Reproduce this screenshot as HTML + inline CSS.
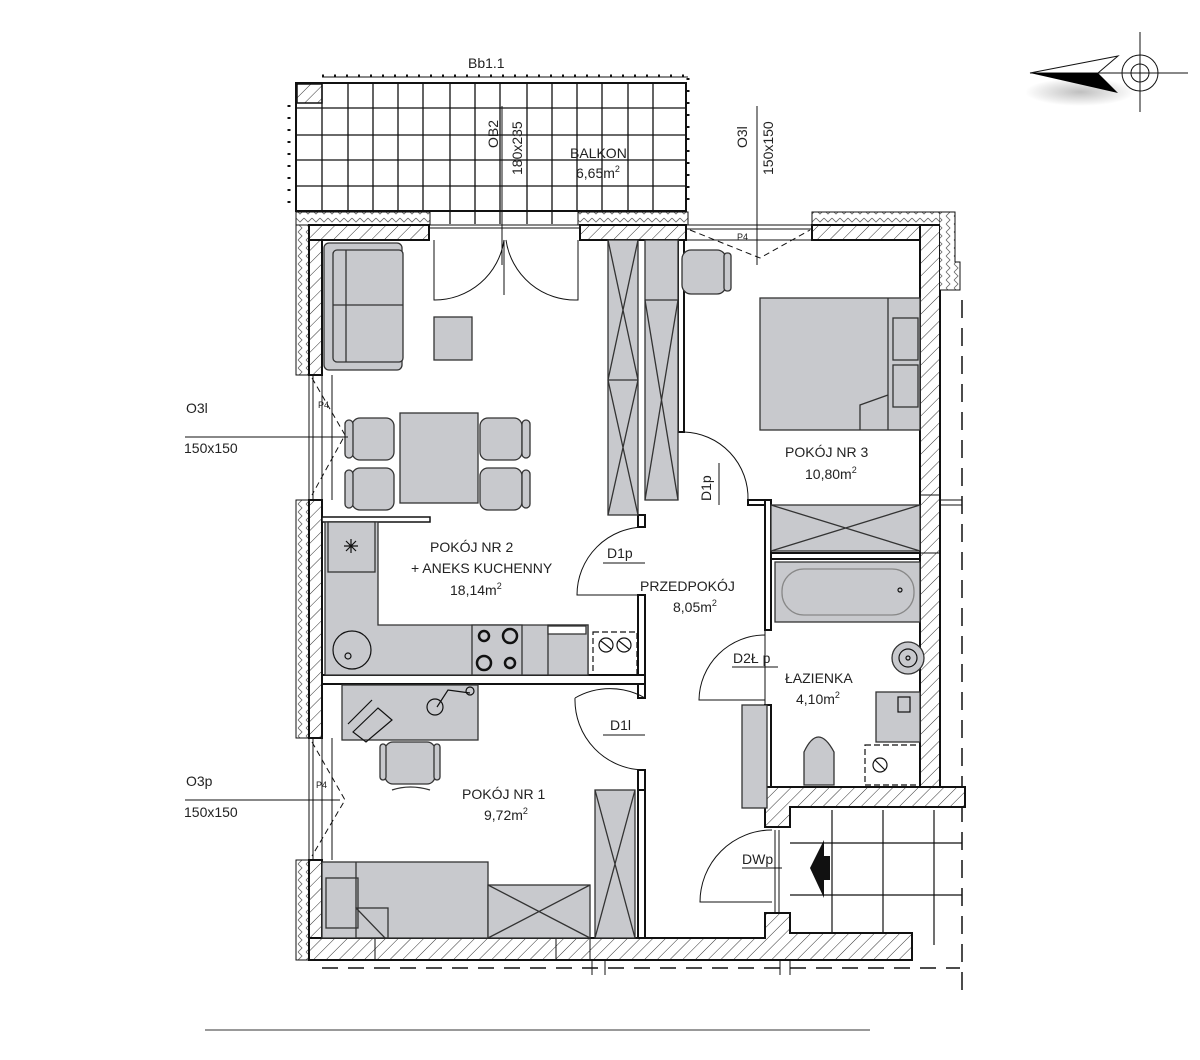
<!DOCTYPE html>
<html><head><meta charset="utf-8"><style>
html,body{margin:0;padding:0;background:#fff;}
svg{display:block;}
text{font-family:"Liberation Sans",sans-serif;fill:#222;}
</style></head><body>
<svg width="1200" height="1060" viewBox="0 0 1200 1060" xmlns="http://www.w3.org/2000/svg">
<defs>
<pattern id="h" width="9" height="9" patternUnits="userSpaceOnUse" patternTransform="rotate(45)">
<rect width="9" height="9" fill="#fff"/><line x1="0" y1="0" x2="0" y2="9" stroke="#333" stroke-width="1"/>
</pattern>
<pattern id="z" width="8" height="8" patternUnits="userSpaceOnUse">
<rect width="8" height="8" fill="#fff"/><polyline points="2,0 6,4 2,8" fill="none" stroke="#666" stroke-width="0.8"/>
</pattern>
<pattern id="zh" width="8" height="8" patternUnits="userSpaceOnUse">
<rect width="8" height="8" fill="#fff"/><polyline points="0,2 4,6 8,2" fill="none" stroke="#666" stroke-width="0.8"/>
</pattern>
<radialGradient id="sh"><stop offset="0" stop-color="#000" stop-opacity="0.25"/><stop offset="1" stop-color="#000" stop-opacity="0"/></radialGradient>
</defs>
<g stroke="#111" fill="none">

<line x1="322" y1="76" x2="688" y2="76" stroke-width="3" stroke-dasharray="2,10"/>
<line x1="322" y1="77" x2="688" y2="77" stroke-width="1"/>
<line x1="289" y1="105" x2="289" y2="210" stroke-width="3" stroke-dasharray="2,10"/>
<line x1="688" y1="78" x2="688" y2="206" stroke-width="3" stroke-dasharray="2,10"/>
<rect x="296" y="83" width="390" height="128" stroke-width="2"/>
<rect x="297" y="84" width="25" height="19" fill="url(#h)" stroke-width="1.5"/>
<g stroke-width="1.3">
<line x1="322" y1="83" x2="322" y2="211"/><line x1="348" y1="83" x2="348" y2="211"/><line x1="373" y1="83" x2="373" y2="211"/>
<line x1="398" y1="83" x2="398" y2="211"/><line x1="423" y1="83" x2="423" y2="211"/><line x1="450" y1="83" x2="450" y2="224"/>
<line x1="475" y1="83" x2="475" y2="224"/><line x1="500" y1="83" x2="500" y2="224"/><line x1="527" y1="83" x2="527" y2="224"/>
<line x1="552" y1="83" x2="552" y2="224"/><line x1="577" y1="83" x2="577" y2="211"/><line x1="602" y1="83" x2="602" y2="211"/>
<line x1="628" y1="83" x2="628" y2="211"/><line x1="653" y1="83" x2="653" y2="211"/>
<line x1="296" y1="108" x2="686" y2="108"/><line x1="296" y1="135" x2="686" y2="135"/><line x1="296" y1="160" x2="686" y2="160"/><line x1="296" y1="186" x2="686" y2="186"/>
</g>

<rect x="296" y="212" width="13" height="163" fill="url(#z)" stroke-width="1"/>
<rect x="296" y="500" width="13" height="238" fill="url(#z)" stroke-width="1"/>
<rect x="296" y="860" width="13" height="100" fill="url(#z)" stroke-width="1"/>
<rect x="309" y="225" width="13" height="150" fill="url(#h)" stroke-width="2"/>
<rect x="309" y="500" width="13" height="238" fill="url(#h)" stroke-width="2"/>
<rect x="309" y="860" width="13" height="100" fill="url(#h)" stroke-width="2"/>
<g stroke-width="1">
<line x1="309" y1="375" x2="309" y2="500"/><line x1="313" y1="375" x2="313" y2="500"/><line x1="322" y1="375" x2="322" y2="500"/><line x1="332" y1="375" x2="332" y2="500"/>
<line x1="309" y1="738" x2="309" y2="860"/><line x1="313" y1="738" x2="313" y2="860"/><line x1="322" y1="738" x2="322" y2="860"/><line x1="332" y1="738" x2="332" y2="860"/>
<path d="M312,378 L345,435 L312,495" stroke-dasharray="6,4"/>
<path d="M312,742 L345,800 L312,856" stroke-dasharray="6,4"/>
</g>
<rect x="296" y="212" width="134" height="13" fill="url(#zh)" stroke-width="1"/>
<rect x="578" y="212" width="110" height="13" fill="url(#zh)" stroke-width="1"/>
<rect x="309" y="225" width="120" height="15" fill="url(#h)" stroke-width="2"/>
<rect x="580" y="225" width="106" height="15" fill="url(#h)" stroke-width="2"/>
<line x1="430" y1="225" x2="580" y2="225" stroke-width="1"/>
<line x1="430" y1="228" x2="580" y2="228" stroke-width="1"/>
<g stroke-width="1">
<line x1="686" y1="225" x2="812" y2="225"/><line x1="686" y1="229" x2="812" y2="229"/><line x1="686" y1="240" x2="818" y2="240"/>
<path d="M690,230 L760,258 L810,230" stroke-dasharray="6,4"/>
</g>
<rect x="812" y="212" width="128" height="13" fill="url(#zh)" stroke-width="1"/>
<rect x="812" y="225" width="108" height="15" fill="url(#h)" stroke-width="2"/>
<rect x="920" y="225" width="20" height="562" fill="url(#h)" stroke-width="2"/>
<path d="M940,212 L955,212 L955,262 L960,262 L960,290 L940,290" fill="url(#z)" stroke-width="1"/>
<line x1="940" y1="290" x2="940" y2="787" stroke-width="2"/>
<line x1="920" y1="495" x2="940" y2="495" stroke-width="1"/><line x1="920" y1="553" x2="940" y2="553" stroke-width="1"/>
<line x1="940" y1="500" x2="962" y2="500" stroke-width="1"/><line x1="940" y1="505" x2="962" y2="505" stroke-width="1"/>
<line x1="962" y1="300" x2="962" y2="1000" stroke-width="1.5" stroke-dasharray="18,10"/>
<path d="M309,938 L765,938 L765,913 L790,913 L790,933 L912,933 L912,960 L309,960 Z" fill="url(#h)" stroke-width="2"/>
<line x1="375" y1="938" x2="375" y2="960" stroke-width="1"/><line x1="556" y1="938" x2="556" y2="960" stroke-width="1"/>
<line x1="590" y1="938" x2="590" y2="960" stroke-width="1"/>
<line x1="322" y1="968" x2="960" y2="968" stroke-width="1.5" stroke-dasharray="16,10"/>
<line x1="592" y1="960" x2="592" y2="975" stroke-width="1"/><line x1="605" y1="960" x2="605" y2="975" stroke-width="1"/>
<line x1="780" y1="960" x2="780" y2="975" stroke-width="1"/><line x1="790" y1="960" x2="790" y2="975" stroke-width="1"/>
<path d="M765,787 L965,787 L965,807 L790,807 L790,827 L765,827 Z" fill="url(#h)" stroke-width="2"/>
<g stroke-width="1.2">
<line x1="790" y1="843" x2="962" y2="843"/><line x1="790" y1="895" x2="962" y2="895"/>
<line x1="832" y1="810" x2="832" y2="933"/><line x1="883" y1="810" x2="883" y2="933"/><line x1="934" y1="810" x2="934" y2="945"/>
<line x1="779" y1="830" x2="779" y2="913" stroke-width="1"/><line x1="775" y1="830" x2="775" y2="913" stroke-width="1"/>
</g>
<polygon points="810,868 824,840 824,856 830,856 830,880 824,880 824,898" fill="#111" stroke="none"/>

<g stroke-width="2" fill="#fff">
<rect x="322" y="517" width="108" height="5" stroke-width="1.5"/>
<rect x="322" y="675" width="323" height="9" />
<rect x="638" y="515" width="7" height="12"/>
<rect x="638" y="595" width="7" height="80"/>
<rect x="638" y="684" width="7" height="14"/>
<rect x="638" y="770" width="7" height="20"/>
<rect x="638" y="790" width="7" height="148"/>
<rect x="678" y="240" width="6" height="192"/>
<rect x="748" y="500" width="20" height="5"/>
<rect x="765" y="500" width="6" height="130"/>
<rect x="765" y="705" width="6" height="82"/>
<rect x="771" y="553" width="149" height="6"/>
</g>

<g fill="#c8c9cd" stroke="#333" stroke-width="1.3">
<rect x="324" y="243" width="78" height="127" rx="5"/>
<rect x="333" y="250" width="70" height="112" rx="4"/>
<line x1="346" y1="250" x2="346" y2="362"/><line x1="333" y1="305" x2="403" y2="305"/>
<rect x="434" y="317" width="38" height="43"/>
<rect x="400" y="413" width="78" height="90"/>
<rect x="352" y="418" width="42" height="42" rx="8"/><rect x="352" y="468" width="42" height="42" rx="8"/>
<rect x="480" y="418" width="42" height="42" rx="8"/><rect x="480" y="468" width="42" height="42" rx="8"/>
<rect x="345" y="420" width="8" height="38" rx="4"/><rect x="345" y="470" width="8" height="38" rx="4"/>
<rect x="522" y="420" width="8" height="38" rx="4"/><rect x="522" y="470" width="8" height="38" rx="4"/>
<rect x="608" y="240" width="30" height="275"/>
<path d="M608,240 L638,380 L608,515 M638,240 L608,380 L638,515 M608,380 L638,380" fill="none"/>
<rect x="645" y="240" width="33" height="260"/>
<path d="M645,300 L678,300 M645,300 L678,500 M678,300 L645,500" fill="none"/>
<path d="M325,522 L378,522 L378,625 L588,625 L588,675 L325,675 Z"/>
<rect x="328" y="522" width="47" height="50"/>
<rect x="472" y="625" width="50" height="50"/>
<rect x="548" y="625" width="40" height="50"/>
<rect x="548" y="626" width="38" height="8" fill="#fff"/>
<rect x="342" y="685" width="136" height="55"/>
<rect x="385" y="742" width="50" height="42" rx="8"/>
<rect x="380" y="744" width="6" height="36" rx="3"/><rect x="434" y="744" width="6" height="36" rx="3"/>
<path d="M392,790 Q410,784 430,790" fill="none"/>
<rect x="322" y="862" width="166" height="76"/>
<rect x="326" y="878" width="32" height="50"/>
<path d="M356,862 L356,908 L385,938" fill="none"/><rect x="356" y="908" width="32" height="30" fill="none"/>
<rect x="488" y="885" width="102" height="53"/>
<path d="M488,885 L590,938 M590,885 L488,938" fill="none"/>
<rect x="595" y="790" width="40" height="148"/>
<path d="M595,790 L635,938 M635,790 L595,938" fill="none"/>
<rect x="682" y="250" width="44" height="44" rx="9"/>
<rect x="724" y="253" width="7" height="38" rx="3"/>
<rect x="760" y="298" width="160" height="132"/>
<line x1="888" y1="298" x2="888" y2="430"/>
<rect x="893" y="318" width="25" height="42"/><rect x="893" y="365" width="25" height="42"/>
<path d="M860,430 L860,405 L888,395" fill="none"/>
<rect x="771" y="505" width="149" height="46"/>
<path d="M771,505 L920,551 M920,505 L771,551" fill="none"/>
<rect x="775" y="562" width="145" height="60"/>
<rect x="782" y="569" width="132" height="46" rx="22" stroke="#888"/>
<rect x="876" y="692" width="44" height="50"/>
<rect x="742" y="705" width="25" height="103"/>
<path d="M804,785 L804,752 Q818,722 834,752 L834,785 Z"/>
<circle cx="908" cy="658" r="16"/>
</g>
<g stroke-width="1.2">
<circle cx="352" cy="650" r="19"/><circle cx="348" cy="656" r="3"/>
<circle cx="484" cy="636" r="5" stroke-width="2.5"/><circle cx="510" cy="636" r="7" stroke-width="2.5"/>
<circle cx="484" cy="663" r="7" stroke-width="2.5"/><circle cx="510" cy="663" r="5" stroke-width="2.5"/>
<path d="M344,546 L358,546 M351,539 L351,553 M346,541 L356,551 M356,541 L346,551"/>
<rect x="593" y="632" width="44" height="43" stroke-dasharray="6,3"/>
<circle cx="606" cy="645" r="7"/><circle cx="624" cy="645" r="7"/>
<path d="M601,641 L611,649 M619,641 L629,649"/>
<circle cx="435" cy="707" r="8"/><path d="M437,707 L448,690 L470,693"/><circle cx="470" cy="691" r="4"/>
<path d="M348,724 L372,700 M353,732 L378,708 L392,720 L366,742 Z"/>
<circle cx="908" cy="658" r="9"/><circle cx="908" cy="658" r="2"/>
<rect x="898" y="697" width="12" height="15"/>
<rect x="865" y="745" width="55" height="40" stroke-dasharray="6,3"/>
<circle cx="880" cy="765" r="7"/><path d="M875,760 L885,770"/>
<circle cx="900" cy="590" r="2"/>
</g>
<g stroke-width="1">
<path d="M434,240 L434,300 A70,70 0 0 0 504,240"/>
<path d="M578,240 L578,300 A70,70 0 0 1 506,240"/>
<line x1="504" y1="240" x2="504" y2="295"/>
<path d="M645,527 A68,68 0 0 0 577,595 L638,595"/>
<path d="M645,698 A70,70 0 0 0 575,698 M575,698 A70,70 0 0 0 645,770" fill="none"/>
<path d="M684,432 A66,66 0 0 1 748,500"/>
<path d="M765,635 A66,66 0 0 0 699,700 L765,700"/>
<path d="M772,830 A72,72 0 0 0 700,902 L772,902"/>
<line x1="765" y1="630" x2="765" y2="705"/>
</g>
<g stroke-width="1">
<line x1="502" y1="106" x2="502" y2="265"/>
<line x1="757" y1="106" x2="757" y2="265"/>
<line x1="185" y1="437" x2="348" y2="437"/>
<line x1="185" y1="800" x2="340" y2="800"/>
<line x1="603" y1="563" x2="645" y2="563"/>
<line x1="603" y1="735" x2="645" y2="735"/>
<line x1="732" y1="667" x2="778" y2="667"/>
<line x1="742" y1="868" x2="782" y2="868"/>
<line x1="719" y1="463" x2="719" y2="505"/>
</g>
<ellipse cx="1080" cy="92" rx="55" ry="14" fill="url(#sh)" stroke="none"/>
<polygon points="1030,73 1118,56 1098,73" fill="#fff" stroke="#111" stroke-width="1"/>
<polygon points="1030,73 1098,73 1118,93" fill="#000" stroke="none"/>
<line x1="1098" y1="73" x2="1188" y2="73" stroke-width="1"/>
<line x1="1140" y1="32" x2="1140" y2="112" stroke-width="1"/>
<circle cx="1140" cy="73" r="18" stroke-width="1"/><circle cx="1140" cy="73" r="9" stroke-width="1"/>
<line x1="205" y1="1030" x2="870" y2="1030" stroke="#999" stroke-width="2"/>
</g>
<g font-size="14">
<text x="468" y="68">Bb1.1</text>
<text transform="translate(498,148) rotate(-90)">OB2</text>
<text transform="translate(522,175) rotate(-90)">180x235</text>
<text x="570" y="158">BALKON</text>
<text x="576" y="178">6,65m<tspan dy="-6" font-size="9">2</tspan></text>
<text transform="translate(747,148) rotate(-90)">O3l</text>
<text transform="translate(773,175) rotate(-90)">150x150</text>
<text x="186" y="413">O3l</text>
<text x="184" y="453">150x150</text>
<text x="186" y="786">O3p</text>
<text x="184" y="817">150x150</text>
<text x="430" y="552">POKÓJ NR 2</text>
<text x="411" y="573">+ ANEKS KUCHENNY</text>
<text x="450" y="595">18,14m<tspan dy="-6" font-size="9">2</tspan></text>
<text x="607" y="558">D1p</text>
<text x="640" y="591">PRZEDPOKÓJ</text>
<text x="673" y="612">8,05m<tspan dy="-6" font-size="9">2</tspan></text>
<text x="733" y="663">D2Ł p</text>
<text x="785" y="683">ŁAZIENKA</text>
<text x="796" y="704">4,10m<tspan dy="-6" font-size="9">2</tspan></text>
<text x="610" y="730">D1l</text>
<text x="462" y="799">POKÓJ NR 1</text>
<text x="484" y="820">9,72m<tspan dy="-6" font-size="9">2</tspan></text>
<text x="742" y="864">DWp</text>
<text x="785" y="457">POKÓJ NR 3</text>
<text x="805" y="479">10,80m<tspan dy="-6" font-size="9">2</tspan></text>
<text transform="translate(711,501) rotate(-90)">D1p</text>
<text x="318" y="408" font-size="9">P4</text>
<text x="316" y="788" font-size="9">P4</text>
<text x="737" y="240" font-size="9">P4</text>
</g>
</svg>
</body></html>
